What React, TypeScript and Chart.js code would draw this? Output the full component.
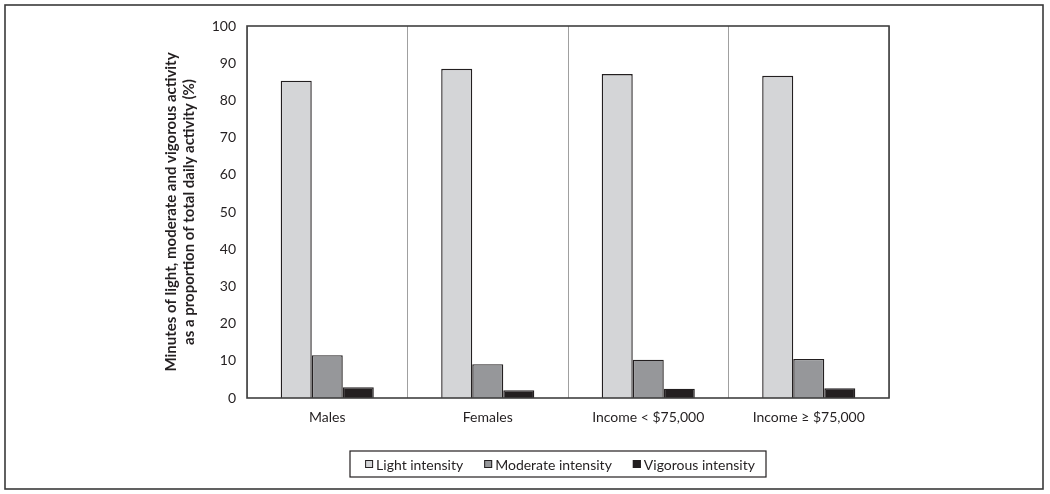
import React, { useEffect, useRef } from "react";
import { Chart, registerables } from "chart.js";

Chart.register(...registerables);

const categories = ["Males", "Females", "Income < $75,000", "Income \u2265 $75,000"];
const seriesNames = ["Light intensity", "Moderate intensity", "Vigorous intensity"];
const lightValues = [85.3, 88.5, 87.1, 86.6];
const moderateValues = [11.5, 9.1, 10.3, 10.5];
const vigorousValues = [2.9, 2.1, 2.5, 2.6];
const seriesColors = ["#d4d5d7", "#96979a", "#231f20"];
const yTitle = [
  "Minutes of light, moderate and vigorous activity",
  "as a proportion of total daily activity (%)",
];

const FONT = "Lato, 'Open Sans', 'DejaVu Sans', sans-serif";
const INK = "#231f20";

const decorPlugin = {
  id: "decor",
  beforeDraw(chart: any) {
    const ctx = chart.ctx;
    ctx.save();
    ctx.fillStyle = "#ffffff";
    ctx.fillRect(0, 0, chart.width, chart.height);
    ctx.strokeStyle = "#3a3a3a";
    ctx.lineWidth = 1.6;
    ctx.strokeRect(5, 5, chart.width - 12, chart.height - 10);
    ctx.restore();
  },
  afterDraw(chart: any) {
    const ctx = chart.ctx;
    const a = chart.chartArea;
    ctx.save();
    ctx.strokeStyle = "#404040";
    ctx.lineWidth = 1.6;
    ctx.strokeRect(a.left, a.top, a.right - a.left, a.bottom - a.top);

    // legend
    const lx = 350, ly = 451, lw = 416, lh = 26;
    ctx.lineWidth = 1.2;
    ctx.strokeStyle = INK;
    ctx.strokeRect(lx, ly, lw, lh);
    ctx.font = "14px " + FONT;
    ctx.textBaseline = "middle";
    ctx.textAlign = "left";
    const box = 8, gapBox = 3, gapItem = 21;
    const widths = chart.data.datasets.map((d: any) => ctx.measureText(d.label).width);
    const total = widths.reduce((s: number, w: number) => s + w + box + gapBox, 0) + gapItem * (widths.length - 1);
    let x = lx + lw / 2 - total / 2 + 2;
    const cy = ly + lh / 2;
    chart.data.datasets.forEach((d: any, i: number) => {
      ctx.fillStyle = d.backgroundColor;
      ctx.fillRect(x, cy - box / 2, box, box);
      ctx.lineWidth = 1;
      ctx.strokeStyle = INK;
      ctx.strokeRect(x + 0.5, cy - box / 2 + 0.5, box - 1, box - 1);
      ctx.fillStyle = INK;
      ctx.fillText(d.label, x + box + gapBox, cy + 1);
      x += box + gapBox + widths[i] + gapItem;
    });
    ctx.restore();
  },
};

export default function App() {
  const ref = useRef<HTMLCanvasElement | null>(null);
  useEffect(() => {
    if (!ref.current) return;
    const values = [lightValues, moderateValues, vigorousValues];
    const chart = new Chart(ref.current, {
      type: "bar",
      data: {
        labels: categories,
        datasets: seriesNames.map((name, i) => ({
          label: name,
          data: values[i],
          backgroundColor: seriesColors[i],
          borderColor: INK,
          borderWidth: 1.4,
          categoryPercentage: 0.58,
          barPercentage: 1.0,
        })),
      },
      options: {
        animation: false,
        responsive: false,
        maintainAspectRatio: false,
        layout: { padding: { left: 160, right: 161, top: 26, bottom: 0 } },
        plugins: { legend: { display: false }, tooltip: { enabled: false } },
        scales: {
          x: {
            offset: true,
            grid: { offset: true, color: "#a0a0a0", lineWidth: 1, drawTicks: false },
            border: { display: false },
            ticks: { color: INK, font: { family: FONT, size: 14 }, padding: 11, maxRotation: 0 },
            afterFit(scale: any) {
              scale.height = 96;
            },
          },
          y: {
            min: 0,
            max: 100,
            grid: { display: false, drawTicks: false },
            border: { display: false },
            ticks: { stepSize: 10, color: INK, font: { family: FONT, size: 14 }, padding: 11 },
            title: {
              display: true,
              text: yTitle,
              color: INK,
              font: { family: FONT, size: 15, weight: "bold", lineHeight: 1.15 },
              padding: { top: 3, bottom: 3 },
            },
            afterFit(scale: any) {
              scale.width = 87;
            },
          },
        },
      },
      plugins: [decorPlugin],
    } as any);
    return () => chart.destroy();
  }, []);
  return (
    <div style={{ position: "fixed", left: 0, top: 0, width: 1050, height: 494, background: "#fff" }}>
      <canvas ref={ref} width={1050} height={494} style={{ display: "block" }} />
    </div>
  );
}
